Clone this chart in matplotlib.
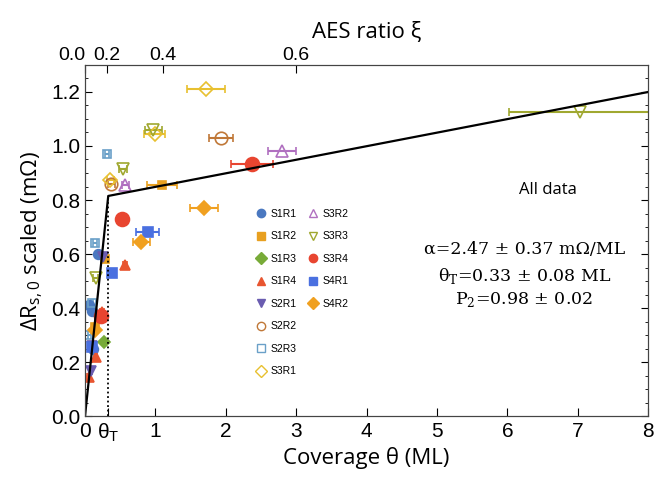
import matplotlib
matplotlib.use("Agg")
import matplotlib.pyplot as plt
from matplotlib.lines import Line2D
from matplotlib.ticker import MultipleLocator

# ---- data ----
series_names = ["S1R1", "S1R2", "S1R3", "S1R4", "S2R1", "S2R2", "S2R3",
                "S3R1", "S3R2", "S3R3", "S3R4", "S4R1", "S4R2"]

S1R1_x = [0.18, 0.10, 0.12, 0.05]
S1R1_y = [0.60, 0.39, 0.25, 0.41]
S1R1_e = [0.03, 0.02, 0.02, 0.02]

S1R2_x = [1.09, 0.28, 0.14]
S1R2_y = [0.855, 0.58, 0.33]
S1R2_e = [0.21, 0.03, 0.02]

S1R3_x = [0.27]
S1R3_y = [0.275]
S1R3_e = [0.03]

S1R4_x = [0.57, 0.24, 0.05, 0.15]
S1R4_y = [0.56, 0.385, 0.145, 0.22]
S1R4_e = [0.03, 0.03, 0.02, 0.02]

S2R1_x = [0.25, 0.08, 0.10]
S2R1_y = [0.59, 0.165, 0.26]
S2R1_e = [0.03, 0.02, 0.02]

S2R2_x = [1.93, 0.37]
S2R2_y = [1.03, 0.86]
S2R2_e = [0.17, 0.05]

S2R3_x = [0.31, 0.14, 0.10, 0.06]
S2R3_y = [0.97, 0.64, 0.42, 0.30]
S2R3_e = [0.03, 0.03, 0.02, 0.02]

S3R1_x = [1.72, 0.99, 0.36]
S3R1_y = [1.21, 1.045, 0.875]
S3R1_e = [0.27, 0.15, 0.05]

S3R2_x = [2.80, 0.57]
S3R2_y = [0.98, 0.855]
S3R2_e = [0.20, 0.05]

S3R3_x = [7.03, 0.97, 0.54, 0.15]
S3R3_y = [1.125, 1.06, 0.915, 0.51]
S3R3_e = [1.00, 0.12, 0.06, 0.03]

S3R4_x = [2.37, 0.53, 0.22]
S3R4_y = [0.935, 0.73, 0.37]
S3R4_e = [0.30, 0.03, 0.02]

S4R1_x = [0.89, 0.38, 0.10]
S4R1_y = [0.68, 0.53, 0.255]
S4R1_e = [0.16, 0.03, 0.02]

S4R2_x = [1.69, 0.80, 0.14]
S4R2_y = [0.77, 0.645, 0.32]
S4R2_e = [0.20, 0.12, 0.03]

fit_x = [0.0, 0.33, 8.0]
fit_y = [0.0, 0.815, 1.20]
theta_T = 0.33

x_ticks = [0, theta_T, 1, 2, 3, 4, 5, 6, 7, 8]
x_ticklabels = ["0", r"$\mathregular{\theta_T}$", "1", "2", "3", "4", "5", "6", "7", "8"]
y_ticks = [0.0, 0.2, 0.4, 0.6, 0.8, 1.0, 1.2]
aes_tick_pos = [0.0, 0.31, 1.11, 3.0]
aes_tick_labels = ["0.0", "0.2", "0.4", "0.6"]

# ---- styles ----
styles = {
    "S1R1": dict(marker="o", color="#4a78c0", fill=True, ms=7),
    "S1R2": dict(marker="s", color="#e8a020", fill=True, ms=6),
    "S1R3": dict(marker="D", color="#78ab38", fill=True, ms=6),
    "S1R4": dict(marker="^", color="#e85530", fill=True, ms=7),
    "S2R1": dict(marker="v", color="#6a5cb0", fill=True, ms=7),
    "S2R2": dict(marker="o", color="#c07838", fill=False, ms=9),
    "S2R3": dict(marker="s", color="#6aa0c8", fill=False, ms=6),
    "S3R1": dict(marker="D", color="#e8c030", fill=False, ms=7),
    "S3R2": dict(marker="^", color="#b070c0", fill=False, ms=8),
    "S3R3": dict(marker="v", color="#a0a830", fill=False, ms=8),
    "S3R4": dict(marker="o", color="#e84530", fill=True, ms=10),
    "S4R1": dict(marker="s", color="#4a70e0", fill=True, ms=7),
    "S4R2": dict(marker="D", color="#f0a020", fill=True, ms=7),
}
data = {
    "S1R1": (S1R1_x, S1R1_y, S1R1_e), "S1R2": (S1R2_x, S1R2_y, S1R2_e),
    "S1R3": (S1R3_x, S1R3_y, S1R3_e), "S1R4": (S1R4_x, S1R4_y, S1R4_e),
    "S2R1": (S2R1_x, S2R1_y, S2R1_e), "S2R2": (S2R2_x, S2R2_y, S2R2_e),
    "S2R3": (S2R3_x, S2R3_y, S2R3_e), "S3R1": (S3R1_x, S3R1_y, S3R1_e),
    "S3R2": (S3R2_x, S3R2_y, S3R2_e), "S3R3": (S3R3_x, S3R3_y, S3R3_e),
    "S3R4": (S3R4_x, S3R4_y, S3R4_e), "S4R1": (S4R1_x, S4R1_y, S4R1_e),
    "S4R2": (S4R2_x, S4R2_y, S4R2_e),
}

fig = plt.figure(figsize=(6.56, 4.8), dpi=100)
ax = fig.add_axes([0.1296, 0.1333, 0.8584, 0.7313])

handles = []
for name in series_names:
    st = styles[name]
    x, y, e = data[name]
    ax.errorbar(x, y, xerr=e, fmt="none", ecolor=st["color"], elinewidth=1.5,
                capsize=3, capthick=1.2, zorder=2)
    ax.plot(x, y, linestyle="none", marker=st["marker"], ms=st["ms"],
            markerfacecolor=st["color"] if st["fill"] else "none",
            markeredgecolor=st["color"], markeredgewidth=1.2, zorder=3)
    handles.append(Line2D([], [], linestyle="none", marker=st["marker"], ms=6,
                          markerfacecolor=st["color"] if st["fill"] else "none",
                          markeredgecolor=st["color"], markeredgewidth=1.0,
                          label=name))

ax.plot(fit_x, fit_y, color="black", lw=1.6, zorder=4)
ax.plot([theta_T, theta_T], [0, fit_y[1]], color="black", lw=1.3,
        linestyle=(0, (1, 1.5)), zorder=4)

ax.set_xlim(0, 8)
ax.set_ylim(0, 1.3)
ax.set_xticks(x_ticks)
ax.set_xticklabels(x_ticklabels, fontsize=15, family="Liberation Sans")
ax.set_yticks(y_ticks)
ax.set_yticklabels([f"{v:.1f}" for v in y_ticks], fontsize=15, family="Liberation Sans")
ax.yaxis.set_minor_locator(MultipleLocator(0.05))
ax.tick_params(axis="both", which="both", direction="in", right=True)
ax.tick_params(axis="x", length=6, pad=4)
ax.tick_params(axis="y", which="major", length=5)
ax.tick_params(axis="y", which="minor", length=2.5)
for sp in ax.spines.values():
    sp.set_color("#444444")

ax.set_xlabel("Coverage θ (ML)", fontsize=16, family="Open Sans", labelpad=2)
ax.set_ylabel(r"ΔR$_{\mathregular{s,0}}$ scaled (mΩ)", fontsize=16, family="Open Sans", labelpad=4)

ax2 = ax.twiny()
ax2.set_xlim(ax.get_xlim())
ax2.set_xticks(aes_tick_pos)
ax2.set_xticklabels(aes_tick_labels, fontsize=14, family="Liberation Sans")
ax2.get_xticklabels()[0].set_horizontalalignment("right")
ax2.tick_params(axis="x", direction="in", length=6, pad=1)
ax2.set_xlabel("AES ratio ξ", fontsize=16, family="Open Sans", labelpad=6)
for sp in ax2.spines.values():
    sp.set_color("#444444")

# legend: 8 + 5 entries arranged column-wise
blank = [Line2D([], [], linestyle="none", label=" ") for _ in range(3)]
leg = ax.legend(handles=handles + blank, ncol=2, loc="upper left",
                bbox_to_anchor=(0.285, 0.617), frameon=False,
                handletextpad=0.3, columnspacing=1.0, labelspacing=1.2,
                handlelength=1.2, prop={"family": "Liberation Sans", "size": 7.5})

ax.text(0.822, 0.644, "All data", transform=ax.transAxes, fontsize=12,
        family="Open Sans", ha="center", va="center")
eq_kw = dict(transform=ax.transAxes, fontsize=12.5, family="DejaVu Serif",
             ha="center", va="center")
ax.text(0.78, 0.473, r"α=2.47 ± 0.37 mΩ/ML", **eq_kw)
ax.text(0.78, 0.399, r"θ$_\mathregular{T}$=0.33 ± 0.08 ML", **eq_kw)
ax.text(0.78, 0.333, r"P$_\mathregular{2}$=0.98 ± 0.02", **eq_kw)

fig.savefig("out.png", dpi=100)
